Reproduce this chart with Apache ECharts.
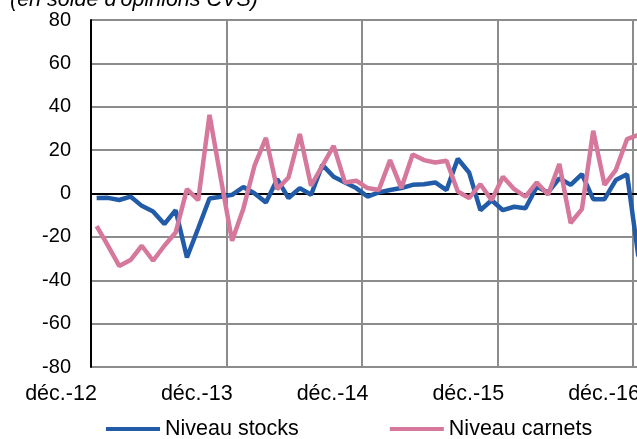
<!DOCTYPE html>
<html><head><meta charset="utf-8">
<script src="https://cdn.jsdelivr.net/npm/echarts@6/dist/echarts.min.js"></script>
<style>html,body{margin:0;padding:0;background:#fff}#c{width:637px;height:439px}</style>
</head><body><div id="c"></div>
<script>
const months = [
 "déc.-12","janv.-13","févr.-13","mars-13","avr.-13","mai-13","juin-13","juil.-13","août-13","sept.-13","oct.-13","nov.-13",
 "déc.-13","janv.-14","févr.-14","mars-14","avr.-14","mai-14","juin-14","juil.-14","août-14","sept.-14","oct.-14","nov.-14",
 "déc.-14","janv.-15","févr.-15","mars-15","avr.-15","mai-15","juin-15","juil.-15","août-15","sept.-15","oct.-15","nov.-15",
 "déc.-15","janv.-16","févr.-16","mars-16","avr.-16","mai-16","juin-16","juil.-16","août-16","sept.-16","oct.-16","nov.-16",
 "déc.-16"
];
const niveauStocks = [
 -2.1,-2,-3,-1.4,-5.7,-8.3,-14.1,-7.7,-29.5,-16,-2.3,-1.5,
 -0.6,3,0,-4.1,6.6,-2.1,2.5,-0.6,13.2,7.7,5.1,2.5,
 -1.4,0.5,1.6,2.5,4,4.3,5.1,1.6,16,9.7,-7.7,-3.1,
 -7.7,-6.1,-6.8,3.1,0.5,7,4,8.9,-2.6,-2.6,6.2,8.9,
 -29
];
const niveauCarnets = [
 -15,-24,-33.4,-30.7,-24.1,-31,-24.1,-18,2,-3.1,36.3,7,
 -21.8,-7,13,25.6,2,7.4,27.4,3.6,12.8,22,5.1,5.9,
 2.5,1.6,15.4,2.5,18,15.4,14.3,15.1,0.9,-2.1,4.3,-3.1,
 7.7,2,-1.5,5.1,-0.6,13.6,-13.6,-7.2,28.9,4,10.8,25.1,
 27
];
const tickLabels = ["déc.-12","déc.-13","déc.-14","déc.-15","déc.-16"];
const seriesNames = ["Niveau stocks","Niveau carnets"];

const FONT = '"Liberation Sans", Arial, sans-serif';
const chart = echarts.init(document.getElementById('c'), null, {renderer:'canvas'});
chart.setOption({
  animation: false,
  title: {
    text: "(en solde d'opinions CVS)", left: 10, top: -11, padding: 0,
    textStyle: {fontFamily: FONT, fontSize: 21.5, fontStyle: 'italic', fontWeight: 'normal', color: '#000'}
  },
  grid: [
    {left: 91, top: 20, width: 553, height: 347, outerBoundsMode: 'none', containLabel: false},
    {left: 61, top: 20, width: 543, height: 347, outerBoundsMode: 'none', containLabel: false}
  ],
  xAxis: [
    {type: 'category', data: months, gridIndex: 0, boundaryGap: true,
     axisLine: {onZero: true, lineStyle: {color: '#000', width: 2}},
     axisTick: {show: false}, axisLabel: {show: false},
     splitLine: {show: true, interval: 11, lineStyle: {color: '#8c8c8c', width: 2}}},
    {type: 'value', gridIndex: 1, min: 0, max: tickLabels.length - 1, interval: 1,
     axisLine: {show: false}, axisTick: {show: false}, splitLine: {show: false},
     axisLabel: {margin: 16, fontFamily: FONT, fontSize: 21.5, color: '#000',
                 formatter: v => tickLabels[v]}}
  ],
  yAxis: [
    {type: 'value', gridIndex: 0, min: -80, max: 80, interval: 20,
     axisLine: {show: true, lineStyle: {color: '#000', width: 2}},
     axisTick: {show: false},
     axisLabel: {margin: 20, fontFamily: FONT, fontSize: 20, color: '#000'},
     splitLine: {show: true, lineStyle: {color: '#8c8c8c', width: 2}}},
    {type: 'value', gridIndex: 1, show: false, min: 0, max: 1}
  ],
  legend: {
    data: seriesNames, left: 106, top: 418, padding: 0,
    icon: 'rect', itemWidth: 54, itemHeight: 4, itemGap: 91,
    textStyle: {fontFamily: FONT, fontSize: 21.5, color: '#000'}
  },
  series: [
    {name: seriesNames[0], type: 'line', data: niveauStocks, xAxisIndex: 0, yAxisIndex: 0,
     symbol: 'none', lineStyle: {color: '#225ca8', width: 4.5}, itemStyle: {color: '#225ca8'},
     emphasis: {disabled: true}},
    {name: seriesNames[1], type: 'line', data: niveauCarnets, xAxisIndex: 0, yAxisIndex: 0,
     symbol: 'none', lineStyle: {color: '#d6779c', width: 4.5}, itemStyle: {color: '#d6779c'},
     emphasis: {disabled: true}}
  ]
});
</script>
</body></html>
